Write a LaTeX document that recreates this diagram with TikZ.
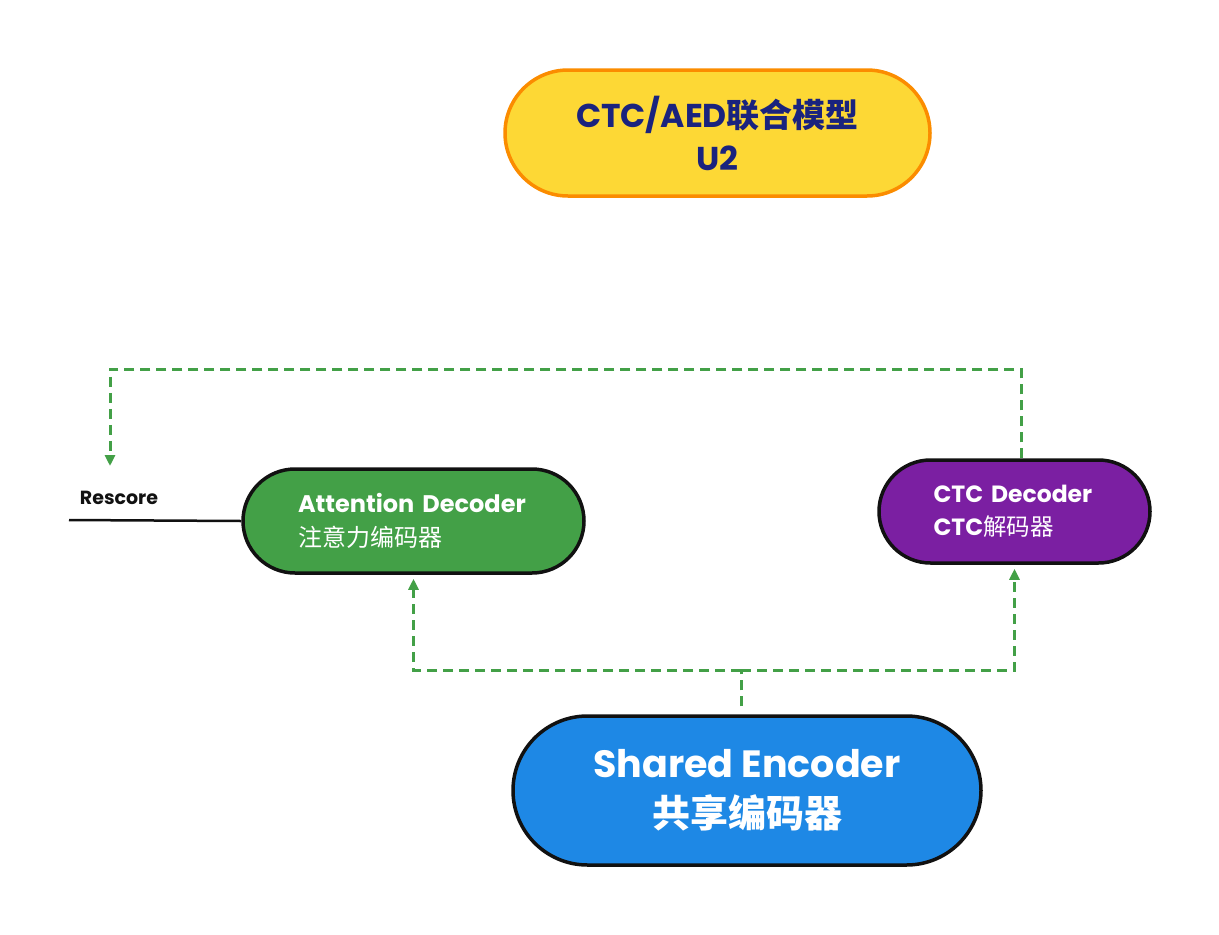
\documentclass[tikz,border=0pt]{standalone}
\usepackage{fontspec}
\setmainfont{Poppins}
\newfontfamily\cjk{Noto Sans CJK SC}
\usetikzlibrary{positioning, arrows.meta}
\definecolor{u2yellow}{HTML}{FDD835}
\definecolor{u2orange}{HTML}{FB8C00}
\definecolor{u2navy}{HTML}{1A237E}
\definecolor{attgreen}{HTML}{43A047}
\definecolor{ctcpurple}{HTML}{7B1FA2}
\definecolor{encblue}{HTML}{1E88E5}
\definecolor{pillborder}{HTML}{111111}
\tikzset{
  pill/.style={draw=pillborder, line width=3.5pt},
  flowline/.style={draw=attgreen, line width=3pt, dash pattern=on 10pt off 6pt},
  flow/.style={flowline, -{Triangle[length=11pt,width=10pt]}, shorten >=4pt}
}

\begin{document}
\begin{tikzpicture}[x=1pt, y=-1pt]
\useasboundingbox (0,0) rectangle (1219,935);

% model title
\node[pill, draw=u2orange, fill=u2yellow, minimum width=425pt, minimum height=126pt,
  rounded corners=63pt, text=u2navy, align=center,
  font=\bfseries\fontsize{33}{43}\selectfont] (model) at (717.5,133) {CTC/AED{\cjk 联合模型}\\U2};

% decoders
\node[pill, fill=attgreen, minimum width=341pt, minimum height=104pt,
  rounded corners=52pt, text=white, text width=231pt, align=left,
  font=\fontsize{24}{34}\selectfont] (att) at (413.5,521)
  {{\bfseries Attention Decoder}\\{\cjk 注意力编码器}};
\node[pill, fill=ctcpurple, minimum width=271pt, minimum height=103pt,
  rounded corners=51.5pt, text=white, text width=162pt, align=left,
  font=\fontsize{23.5}{33}\selectfont] (ctc) at (1014.5,511.5)
  {{\bfseries CTC Decoder}\\{\bfseries CTC}{\cjk 解码器}};

% encoder
\node[pill, fill=encblue, minimum width=468pt, minimum height=149pt,
  rounded corners=74.5pt, text=white, align=center,
  font=\bfseries\fontsize{38}{50}\selectfont] (enc) at (747,790.5)
  {Shared Encoder\\{\cjk 共享编码器}};

% rescore
\node[font=\bfseries\fontsize{19}{20}\selectfont, text=pillborder] (rescore) at (119,498) {Rescore};
\coordinate (rescoreIn) at (110,470);
\coordinate (rescoreOut) at (69,520);
\coordinate (loopTop) at (110,369);
\coordinate (split) at (741,670);

\draw[pillborder, line width=2.5pt] (rescoreOut) -- (att.west);
\draw[flow] ([xshift=6.5pt]ctc.north) |- (loopTop) -- (rescoreIn);
\draw[flowline] ([xshift=-6pt,yshift=8pt]enc.north) -- (split);
\draw[flow] (split) -| (att.south);
\draw[flow] (split) -| (ctc.south);
\end{tikzpicture}
\end{document}
